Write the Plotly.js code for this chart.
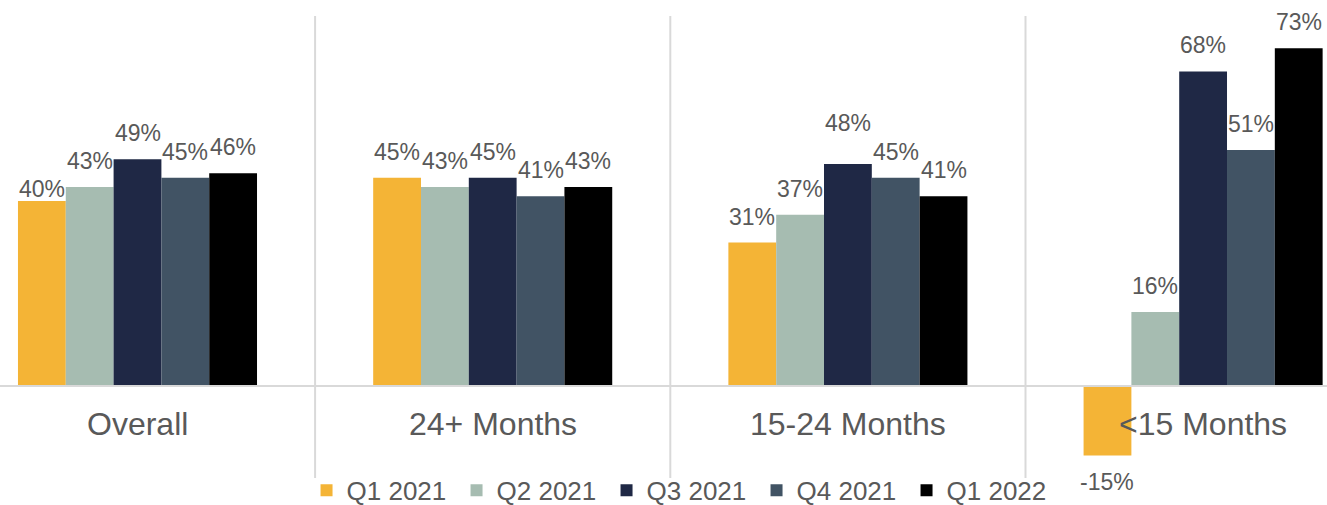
<!DOCTYPE html>
<html>
<head>
<meta charset="utf-8">
<script src="https://cdn.plot.ly/plotly-3.0.1.min.js"></script>
<style>html,body{margin:0;padding:0;background:#fff;}#chart{width:1327px;height:505px;}</style>
</head>
<body>
<div id="chart"></div>
<script>
const categories = ["Overall", "24+ Months", "15-24 Months", "<15 Months"];
const seriesNames = ["Q1 2021", "Q2 2021", "Q3 2021", "Q4 2021", "Q1 2022"];
const q1_2021 = [40, 45, 31, -15];
const q2_2021 = [43, 43, 37, 16];
const q3_2021 = [49, 45, 48, 68];
const q4_2021 = [45, 41, 45, 51];
const q1_2022 = [46, 43, 41, 73];
const colors = ["#F4B436", "#A6BCB1", "#1F2845", "#415364", "#000000"];

const values = [q1_2021, q2_2021, q3_2021, q4_2021, q1_2022];
const txtColor = "#595959";
const font = "Liberation Sans, Arial, sans-serif";
const BARGAP = 0.327;

const traces = values.map((v, i) => ({
  type: "bar",
  name: seriesNames[i],
  x: categories,
  y: v,
  marker: {color: colors[i], line: {width: 0}},
  hoverinfo: "skip"
}));

const esc = s => s.replace(/&/g, "&amp;").replace(/</g, "&lt;").replace(/>/g, "&gt;");

// category labels
const annotations = categories.map((c, i) => ({
  x: i, y: -8.2, xref: "x", yref: "y",
  text: esc(c), showarrow: false,
  font: {size: 32, color: txtColor, family: font},
  xanchor: "center", yanchor: "middle"
}));

// data labels, placed over each grouped bar
const nS = values.length;
const slot = (1 - BARGAP) / nS;
const labelNudge = {"0,0": -14, "2,2": 15}; // per-label extra offset (px), "series,category"
values.forEach((v, s) => {
  v.forEach((val, c) => {
    const pos = val >= 0;
    const extra = labelNudge[s + "," + c] || 0;
    annotations.push({
      x: c + (s - (nS - 1) / 2) * slot, y: val, xref: "x", yref: "y",
      text: val + "%", showarrow: false,
      font: {size: 23, color: txtColor, family: font},
      xanchor: "center", yanchor: pos ? "bottom" : "top",
      yshift: pos ? 11 + extra : -12
    });
  });
});

const shapes = categories.slice(1).map((c, i) => ({
  type: "line", xref: "x", yref: "y",
  x0: i + 0.5, x1: i + 0.5, y0: -19.9, y1: 80,
  line: {color: "#D9D9D9", width: 2}, layer: "below"
}));
shapes.push({
  type: "line", xref: "paper", yref: "y",
  x0: 0, x1: 1, y0: 0, y1: 0,
  line: {color: "#D9D9D9", width: 2}, layer: "above"
});

const layout = {
  width: 1327, height: 505,
  margin: {l: 0, r: 0, t: 0, b: 0, autoexpand: false},
  paper_bgcolor: "#fff", plot_bgcolor: "#fff",
  barmode: "group", bargap: BARGAP, bargroupgap: 0,
  font: {family: font, color: txtColor},
  xaxis: {type: "category", range: [-0.3871, 3.3488], showticklabels: false,
          showgrid: false, zeroline: false, showline: false, ticks: "", automargin: false},
  yaxis: {range: [-25.72, 83.44], showticklabels: false, showgrid: false,
          zeroline: false, showline: false, ticks: "", automargin: false},
  showlegend: true,
  legend: {orientation: "h", x: 0.231, xanchor: "left", y: 0.029, yanchor: "middle",
           font: {size: 26, color: txtColor, family: font}, bgcolor: "rgba(0,0,0,0)",
           traceorder: "normal", entrywidth: 105},
  annotations: annotations,
  shapes: shapes
};

Plotly.newPlot("chart", traces, layout, {displayModeBar: false, staticPlot: true});
</script>
</body>
</html>
